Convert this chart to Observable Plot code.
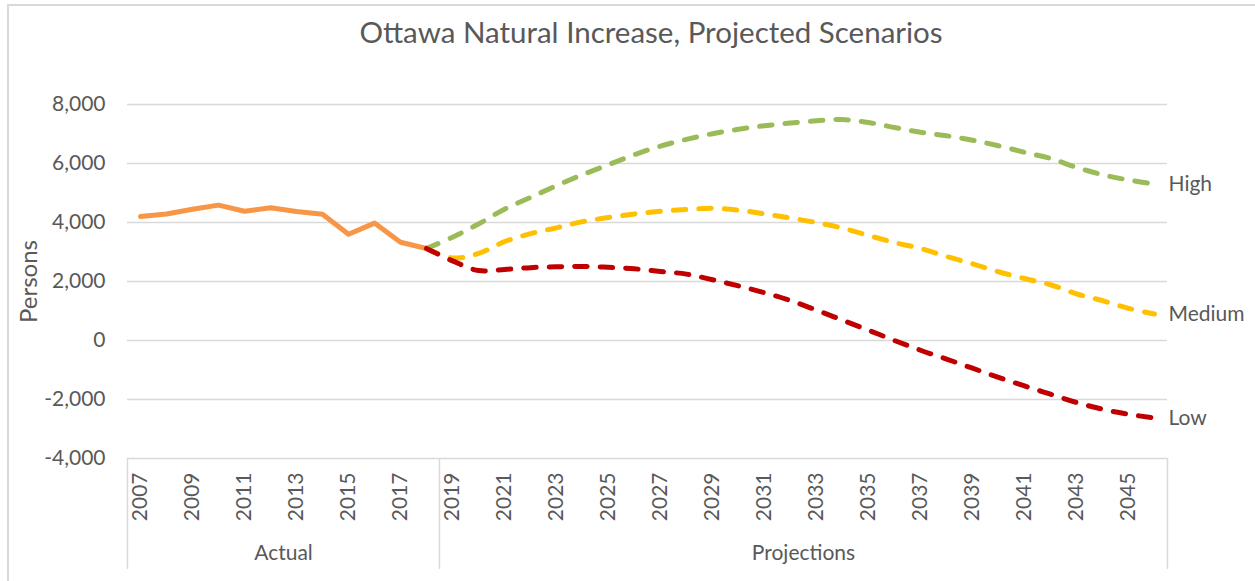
<!DOCTYPE html>
<html><head><meta charset="utf-8">
<script src="https://cdn.jsdelivr.net/npm/d3@7"></script>
<script src="https://cdn.jsdelivr.net/npm/@observablehq/plot@0.6"></script>
<style>
html,body{margin:0;padding:0;background:#fff;}
#chart{position:relative;width:1255px;height:581px;overflow:hidden;background:#fff;}
#border{position:absolute;left:7px;top:4px;width:1270px;height:600px;border:2px solid #d9d9d9;box-sizing:border-box;pointer-events:none;}
</style></head><body><div id="chart"><div id="border"></div></div>
<script>
// ---- data ----
const title = "Ottawa Natural Increase, Projected Scenarios";
const yLabel = "Persons";
const actualYears = [2007, 2008, 2009, 2010, 2011, 2012, 2013, 2014, 2015, 2016, 2017, 2018];
const actualValues = [4200, 4290, 4450, 4590, 4380, 4500, 4370, 4280, 3600, 3980, 3330, 3120];

const projYears = [2018, 2019, 2020, 2021, 2022, 2023, 2024, 2025, 2026, 2027, 2028, 2029, 2030, 2031, 2032,
  2033, 2034, 2035, 2036, 2037, 2038, 2039, 2040, 2041, 2042, 2043, 2044, 2045, 2046];
const highValues = [3120, 3500, 3950, 4450, 4850, 5250, 5620, 5960, 6300, 6590, 6820, 7010, 7160, 7280, 7370,
  7450, 7490, 7390, 7220, 7060, 6940, 6790, 6600, 6380, 6170, 5870, 5620, 5440, 5300];
const mediumValues = [3120, 2800, 2950, 3350, 3620, 3820, 4030, 4170, 4290, 4380, 4440, 4480, 4420, 4290, 4150,
  4000, 3810, 3560, 3320, 3120, 2850, 2600, 2330, 2100, 1890, 1580, 1350, 1090, 900];
const lowValues = [3120, 2700, 2370, 2410, 2470, 2500, 2510, 2480, 2430, 2340, 2250, 2060, 1850, 1620, 1350,
  1030, 690, 350, 0, -330, -630, -940, -1250, -1540, -1820, -2100, -2330, -2500, -2630];

const scenarios = ["High", "Medium", "Low"];
const scenarioColors = ["#9BBB59", "#FFC000", "#C00000"];
const actualColor = "#F79646";

const groups = ["Actual", "Projections"];
const groupStart = [2007, 2019];
const groupEnd = [2018, 2046];

const yTicks = [-4000, -2000, 0, 2000, 4000, 6000, 8000];
const xTicks = [2007, 2009, 2011, 2013, 2015, 2017, 2019, 2021, 2023, 2025, 2027, 2029, 2031, 2033, 2035,
  2037, 2039, 2041, 2043, 2045];

// ---- tables ----
const actualRows = actualYears.map((year, i) => ({year, value: actualValues[i]}));
const seriesValues = [highValues, mediumValues, lowValues];
const projRows = scenarios.flatMap((scenario, s) =>
  projYears.map((year, i) => ({year, value: seriesValues[s][i], scenario})));
const endRows = scenarios.map((scenario, s) => ({
  scenario, year: projYears[projYears.length - 1], value: seriesValues[s][seriesValues[s].length - 1]}));
const groupRows = groups.map((name, i) => ({name, mid: (groupStart[i] + groupEnd[i]) / 2}));
const groupEdges = [groupStart[0] - 0.5, ...groupEnd.map(e => e + 0.5)];

const grey = "#595959";
const font = "Lato, 'Open Sans', sans-serif";
const yMin = yTicks[0];
const fmt = d => d.toLocaleString("en-US");

const chart = Plot.plot({
  width: 1255,
  height: 581,
  marginLeft: 127,
  marginRight: 88,
  marginTop: 104,
  marginBottom: 123,
  style: {fontFamily: font, color: grey, background: "transparent", overflow: "visible"},
  x: {type: "linear", domain: [groupEdges[0], groupEdges[groupEdges.length - 1]]},
  y: {domain: [yTicks[0], yTicks[yTicks.length - 1]]},
  color: {domain: scenarios, range: scenarioColors},
  marks: [
    Plot.gridY(yTicks, {stroke: "#d9d9d9", strokeOpacity: 1, strokeWidth: 1.5}),
    Plot.axisY(yTicks, {tickSize: 0, tickPadding: 22, fontSize: 21, tickFormat: fmt, fill: grey, label: null}),
    Plot.axisX(xTicks, {tickSize: 0, tickPadding: 14, tickRotate: -90, fontSize: 21, tickFormat: d => String(d), fill: grey, label: null}),
    Plot.ruleX(groupEdges, {x: d => d, y1: yMin, y2: yMin, insetBottom: -111, stroke: "#d9d9d9", strokeWidth: 1.5}),
    Plot.text(groupRows, {x: "mid", y: () => yMin, dy: 95, text: "name", fontSize: 21, fill: grey}),
    Plot.line(actualRows, {x: "year", y: "value", stroke: actualColor, strokeWidth: 5, strokeLinejoin: "round", strokeLinecap: "round"}),
    Plot.line(projRows, {x: "year", y: "value", z: "scenario", stroke: "scenario", curve: "catmull-rom",
      strokeWidth: 5, strokeDasharray: "12.5,13", strokeLinecap: "round"}),
    Plot.text(endRows, {x: "year", y: "value", text: "scenario", dx: 14, textAnchor: "start", fontSize: 21, fill: grey}),
    Plot.text([yLabel], {frameAnchor: "left", text: d => d, dx: -98, rotate: -90, textAnchor: "middle", lineAnchor: "middle", fontSize: 24, fill: grey}),
    Plot.text([title], {frameAnchor: "top", text: d => d, dx: 3.5, dy: -71, textAnchor: "middle", lineAnchor: "middle", fontSize: 29.5, fill: grey})
  ]
});
document.getElementById("chart").prepend(chart);
</script></body></html>
